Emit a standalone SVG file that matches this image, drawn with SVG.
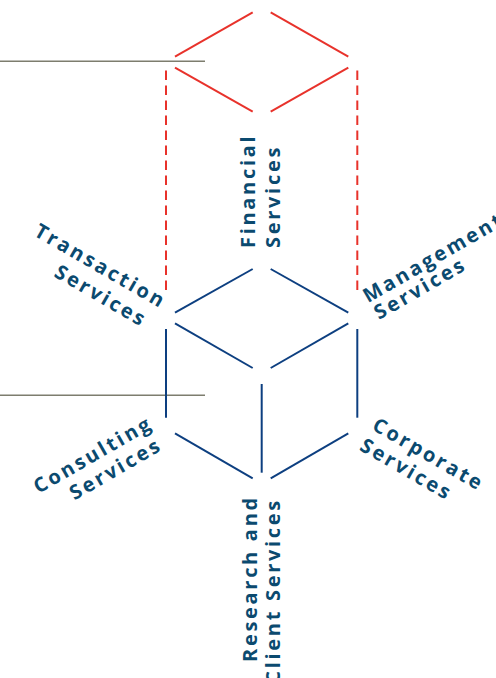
<svg xmlns="http://www.w3.org/2000/svg" width="496" height="678" viewBox="0 0 496 678">
<style>
.red{stroke:#e8322b;stroke-width:2;fill:none}
.dash{stroke:#e8322b;stroke-width:2;fill:none;stroke-dasharray:9.5 5.5}
.blue{stroke:#0d3f80;stroke-width:2;fill:none}
.gray{stroke:#7d7d6e;stroke-width:1.4;fill:none}
.lbl{font-family:"Open Sans","DejaVu Sans",sans-serif;font-weight:bold;font-size:20px;letter-spacing:2.7px;fill:#0b4a6f}
</style>
<rect width="496" height="678" fill="#fff"/>
<g id="connectors">
<line class="gray" x1="0" y1="61.3" x2="205" y2="61.3"/>
<line class="gray" x1="0" y1="395.3" x2="205" y2="395.3"/>
<g id="top-red">
<line class="red" x1="175" y1="56.7" x2="252.7" y2="12.3"/>
<line class="red" x1="270.7" y1="12.3" x2="348.3" y2="56.7"/>
<line class="red" x1="175" y1="67.7" x2="252.7" y2="111.7"/>
<line class="red" x1="270.7" y1="111.7" x2="348.3" y2="67.7"/>
<line class="dash" x1="166" y1="70.5" x2="166" y2="294"/>
<line class="dash" x1="357.3" y1="70.5" x2="357.3" y2="294"/>
</g>
<g id="cube">
<line class="blue" x1="175" y1="312.7" x2="252.7" y2="269"/>
<line class="blue" x1="270.7" y1="269" x2="348.3" y2="312.7"/>
<line class="blue" x1="175" y1="323.3" x2="252.7" y2="368"/>
<line class="blue" x1="270.7" y1="368" x2="348.3" y2="323.3"/>
<line class="blue" x1="166" y1="329" x2="166" y2="417.7"/>
<line class="blue" x1="357.3" y1="329" x2="357.3" y2="417.7"/>
<line class="blue" x1="261.7" y1="384" x2="261.7" y2="472.7"/>
<line class="blue" x1="175" y1="433.3" x2="252.7" y2="478.3"/>
<line class="blue" x1="270.7" y1="478.3" x2="348.3" y2="433.3"/>
</g>
</g>
<text x="-4" y="378" font-family="Liberation Sans, sans-serif" font-size="11" fill="#333">r</text>
<g id="financial">
<text class="lbl" transform="translate(255,248) rotate(-90)">Financial</text>
<text class="lbl" transform="translate(280,248) rotate(-90)">Services</text>
</g>
<g id="transaction">
<text class="lbl" transform="translate(33,235) rotate(30)">Transaction</text>
<text class="lbl" transform="translate(53,276) rotate(30)">Services</text>
</g>
<g id="management">
<text class="lbl" transform="translate(368,303.3) rotate(-30)">Management</text>
<text class="lbl" transform="translate(379,320) rotate(-30)">Services</text>
</g>
<g id="consulting">
<text class="lbl" transform="translate(38.5,494) rotate(-30)">Consulting</text>
<text class="lbl" transform="translate(74.5,500.5) rotate(-30)">Services</text>
</g>
<g id="corporate">
<text class="lbl" transform="translate(371,429) rotate(30)">Corporate</text>
<text class="lbl" transform="translate(358.5,449.5) rotate(30)">Services</text>
</g>
<g id="research">
<text class="lbl" transform="translate(256.7,662) rotate(-90)">Research and</text>
<text class="lbl" text-anchor="end" transform="translate(280,498) rotate(-90)">Client Services</text>
</g>
</svg>
